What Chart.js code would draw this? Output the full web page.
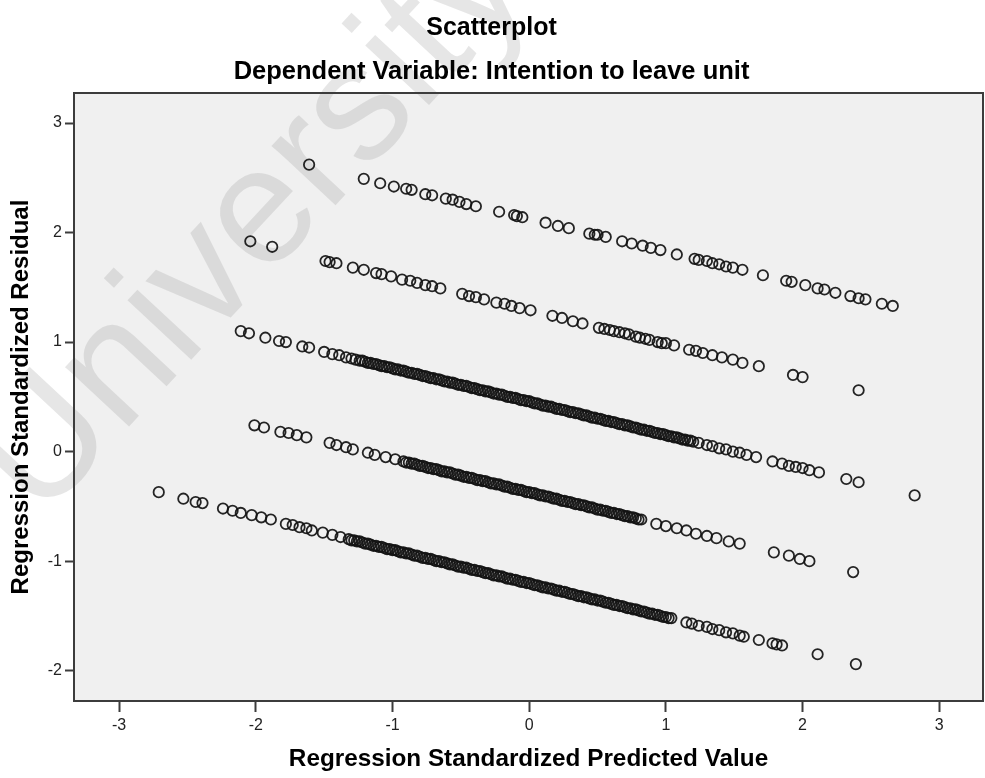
<!DOCTYPE html>
<html>
<head>
<meta charset="utf-8">
<title>Scatterplot</title>
<script src="https://cdn.jsdelivr.net/npm/chart.js@4.4.1/dist/chart.umd.min.js"></script>
<style>
  html, body { margin: 0; padding: 0; background: #ffffff; }
  #wrap { width: 985px; height: 778px; }
</style>
</head>
<body>
<div id="wrap"><canvas id="chart" width="985" height="778"></canvas></div>
<script>
const FONT = "'Liberation Sans', Arial, Helvetica, sans-serif";

// Texts
const chartTitle = 'Scatterplot';
const chartSubtitle = 'Dependent Variable: Intention to leave unit';
const xAxisTitle = 'Regression Standardized Predicted Value';
const yAxisTitle = 'Regression Standardized Residual';
const watermarkText = 'University';

// Tick positions
const xTickValues = [-3, -2, -1, 0, 1, 2, 3];
const yTickValues = [-2, -1, 0, 1, 2, 3];

// Standardized predicted value / standardized residual, one pair of arrays
// per response level of the outcome (each level forms one sloping band).
const band1Pred = [-1.61,-1.21,-1.09,-0.99,-0.90,-0.86,-0.76,-0.71,-0.61,-0.56,-0.51,-0.46,-0.39,-0.22,-0.11,-0.09,-0.05,0.12,0.21,0.29,0.44,0.48,0.50,0.56,0.68,0.75,0.83,0.89,0.96,1.08,1.21,1.24,1.30,1.34,1.39,1.44,1.49,1.56,1.71,1.88,1.92,2.02,2.11,2.16,2.24,2.35,2.41,2.46,2.58,2.66];
const band1Resid = [2.62,2.49,2.45,2.42,2.40,2.39,2.35,2.34,2.31,2.30,2.28,2.26,2.24,2.19,2.16,2.15,2.14,2.09,2.06,2.04,1.99,1.98,1.98,1.96,1.92,1.90,1.88,1.86,1.84,1.80,1.76,1.75,1.74,1.72,1.71,1.69,1.68,1.66,1.61,1.56,1.55,1.52,1.49,1.48,1.45,1.42,1.40,1.39,1.35,1.33];

const band2Pred = [-2.04,-1.88,-1.49,-1.46,-1.41,-1.29,-1.21,-1.12,-1.08,-1.01,-0.93,-0.87,-0.82,-0.76,-0.71,-0.65,-0.49,-0.44,-0.39,-0.33,-0.24,-0.18,-0.13,-0.07,0.01,0.17,0.24,0.32,0.39,0.51,0.55,0.59,0.62,0.66,0.70,0.73,0.78,0.81,0.85,0.88,0.94,0.97,1.00,1.06,1.17,1.22,1.27,1.34,1.41,1.49,1.56,1.68,1.93,2.00,2.41];
const band2Resid = [1.92,1.87,1.74,1.73,1.72,1.68,1.66,1.63,1.62,1.60,1.57,1.56,1.54,1.52,1.51,1.49,1.44,1.42,1.41,1.39,1.36,1.35,1.33,1.31,1.29,1.24,1.22,1.19,1.17,1.13,1.12,1.11,1.10,1.09,1.08,1.07,1.05,1.04,1.03,1.02,1.00,0.99,0.99,0.97,0.93,0.92,0.90,0.88,0.86,0.84,0.81,0.78,0.70,0.68,0.56];

const band3Pred = [-2.11,-2.05,-1.93,-1.83,-1.78,-1.66,-1.61,-1.50,-1.44,-1.39,-1.34,-1.30,-1.27,
  -1.24,-1.22,-1.20,-1.18,-1.16,-1.14,-1.12,-1.10,-1.08,-1.06,
  -1.04,-1.02,-1.00,-0.98,-0.96,-0.94,-0.92,-0.90,-0.88,-0.86,
  -0.84,-0.82,-0.80,-0.78,-0.76,-0.74,-0.72,-0.70,-0.68,-0.66,
  -0.64,-0.62,-0.60,-0.58,-0.56,-0.54,-0.52,-0.50,-0.48,-0.46,
  -0.44,-0.42,-0.40,-0.38,-0.36,-0.34,-0.32,-0.30,-0.28,-0.26,
  -0.24,-0.22,-0.20,-0.18,-0.16,-0.14,-0.12,-0.10,-0.08,-0.06,
  -0.04,-0.02,0.00,0.02,0.04,0.06,0.08,0.10,0.12,0.14,
  0.16,0.18,0.20,0.22,0.24,0.26,0.28,0.30,0.32,0.34,
  0.36,0.38,0.40,0.42,0.44,0.46,0.48,0.50,0.52,0.54,
  0.56,0.58,0.60,0.62,0.64,0.66,0.68,0.70,0.72,0.74,
  0.76,0.78,0.80,0.82,0.84,0.86,0.88,0.90,0.92,0.94,
  0.96,0.98,1.00,1.02,1.04,1.06,1.08,1.10,1.12,1.14,
  1.16,1.18,1.20,
  1.24,1.30,1.34,1.39,1.44,1.49,1.54,1.59,1.66,1.78,1.85,1.90,1.95,2.00,2.05,2.12,2.32,2.41,2.82];
const band3Resid = [1.10,1.08,1.04,1.01,1.00,0.96,0.95,0.91,0.89,0.88,0.86,0.85,0.84,
  0.83,0.83,0.82,0.81,0.81,0.80,0.80,0.79,0.78,0.78,
  0.77,0.77,0.76,0.75,0.75,0.74,0.74,0.73,0.72,0.72,
  0.71,0.71,0.70,0.69,0.69,0.68,0.67,0.67,0.66,0.66,
  0.65,0.64,0.64,0.63,0.63,0.62,0.61,0.61,0.60,0.60,
  0.59,0.58,0.58,0.57,0.56,0.56,0.55,0.55,0.54,0.53,
  0.53,0.52,0.52,0.51,0.50,0.50,0.49,0.49,0.48,0.47,
  0.47,0.46,0.46,0.45,0.44,0.44,0.43,0.42,0.42,0.41,
  0.41,0.40,0.39,0.39,0.38,0.38,0.37,0.36,0.36,0.35,
  0.35,0.34,0.33,0.33,0.32,0.31,0.31,0.30,0.30,0.29,
  0.28,0.28,0.27,0.27,0.26,0.25,0.25,0.24,0.24,0.23,
  0.22,0.22,0.21,0.20,0.20,0.19,0.19,0.18,0.17,0.17,
  0.16,0.16,0.15,0.14,0.14,0.13,0.13,0.12,0.11,0.11,
  0.10,0.10,0.09,
  0.08,0.06,0.05,0.03,0.02,0.00,-0.01,-0.03,-0.05,-0.09,-0.11,-0.13,-0.14,-0.15,-0.17,-0.19,-0.25,-0.28,-0.40];

const band4Pred = [-2.01,-1.94,-1.82,-1.76,-1.70,-1.63,-1.46,-1.41,-1.34,-1.29,-1.18,-1.13,-1.05,-0.98,
  -0.92,-0.90,-0.88,-0.86,-0.84,-0.82,-0.80,-0.78,-0.76,-0.74,
  -0.72,-0.70,-0.68,-0.66,-0.64,-0.62,-0.60,-0.58,-0.56,-0.54,
  -0.52,-0.50,-0.48,-0.46,-0.44,-0.42,-0.40,-0.38,-0.36,-0.34,
  -0.32,-0.30,-0.28,-0.26,-0.24,-0.22,-0.20,-0.18,-0.16,-0.14,
  -0.12,-0.10,-0.08,-0.06,-0.04,-0.02,0.00,0.02,0.04,0.06,
  0.08,0.10,0.12,0.14,0.16,0.18,0.20,0.22,0.24,0.26,
  0.28,0.30,0.32,0.34,0.36,0.38,0.40,0.42,0.44,0.46,
  0.48,0.50,0.52,0.54,0.56,0.58,0.60,0.62,0.64,0.66,
  0.68,0.70,0.72,0.74,0.76,0.78,0.80,0.82,
  0.93,1.00,1.08,1.15,1.22,1.30,1.37,1.46,1.54,1.79,1.90,1.98,2.05,2.37];
const band4Resid = [0.24,0.22,0.18,0.17,0.15,0.13,0.08,0.06,0.04,0.02,-0.01,-0.03,-0.05,-0.07,
  -0.09,-0.10,-0.10,-0.11,-0.11,-0.12,-0.13,-0.13,-0.14,-0.15,
  -0.15,-0.16,-0.16,-0.17,-0.18,-0.18,-0.19,-0.19,-0.20,-0.21,
  -0.21,-0.22,-0.23,-0.23,-0.24,-0.24,-0.25,-0.26,-0.26,-0.27,
  -0.27,-0.28,-0.29,-0.29,-0.30,-0.30,-0.31,-0.32,-0.32,-0.33,
  -0.34,-0.34,-0.35,-0.35,-0.36,-0.37,-0.37,-0.38,-0.38,-0.39,
  -0.40,-0.40,-0.41,-0.41,-0.42,-0.43,-0.43,-0.44,-0.45,-0.45,
  -0.46,-0.46,-0.47,-0.48,-0.48,-0.49,-0.49,-0.50,-0.51,-0.51,
  -0.52,-0.53,-0.53,-0.54,-0.54,-0.55,-0.56,-0.56,-0.57,-0.57,
  -0.58,-0.59,-0.59,-0.60,-0.60,-0.61,-0.62,-0.62,
  -0.66,-0.68,-0.70,-0.72,-0.75,-0.77,-0.79,-0.82,-0.84,-0.92,-0.95,-0.98,-1.00,-1.10];

const band5Pred = [-2.71,-2.53,-2.44,-2.39,-2.24,-2.17,-2.11,-2.03,-1.96,-1.89,-1.78,-1.73,-1.68,-1.63,-1.59,-1.51,-1.44,-1.38,
  -1.32,-1.30,-1.28,-1.26,-1.24,-1.22,-1.20,-1.18,-1.16,-1.14,
  -1.12,-1.10,-1.08,-1.06,-1.04,-1.02,-1.00,-0.98,-0.96,-0.94,
  -0.92,-0.90,-0.88,-0.86,-0.84,-0.82,-0.80,-0.78,-0.76,-0.74,
  -0.72,-0.70,-0.68,-0.66,-0.64,-0.62,-0.60,-0.58,-0.56,-0.54,
  -0.52,-0.50,-0.48,-0.46,-0.44,-0.42,-0.40,-0.38,-0.36,-0.34,
  -0.32,-0.30,-0.28,-0.26,-0.24,-0.22,-0.20,-0.18,-0.16,-0.14,
  -0.12,-0.10,-0.08,-0.06,-0.04,-0.02,0.00,0.02,0.04,0.06,
  0.08,0.10,0.12,0.14,0.16,0.18,0.20,0.22,0.24,0.26,
  0.28,0.30,0.32,0.34,0.36,0.38,0.40,0.42,0.44,0.46,
  0.48,0.50,0.52,0.54,0.56,0.58,0.60,0.62,0.64,0.66,
  0.68,0.70,0.72,0.74,0.76,0.78,0.80,0.82,0.84,0.86,
  0.88,0.90,0.92,0.94,0.96,0.98,1.00,1.02,1.04,
  1.15,1.19,1.24,1.30,1.34,1.39,1.44,1.49,1.54,1.57,1.68,1.78,1.81,1.85,2.11,2.39];
const band5Resid = [-0.37,-0.43,-0.46,-0.47,-0.52,-0.54,-0.56,-0.58,-0.60,-0.62,-0.66,-0.67,-0.69,-0.70,-0.72,-0.74,-0.76,-0.78,
  -0.80,-0.81,-0.81,-0.82,-0.82,-0.83,-0.84,-0.84,-0.85,-0.86,
  -0.86,-0.87,-0.87,-0.88,-0.89,-0.89,-0.90,-0.90,-0.91,-0.92,
  -0.92,-0.93,-0.93,-0.94,-0.95,-0.95,-0.96,-0.97,-0.97,-0.98,
  -0.98,-0.99,-1.00,-1.00,-1.01,-1.01,-1.02,-1.03,-1.03,-1.04,
  -1.05,-1.05,-1.06,-1.06,-1.07,-1.08,-1.08,-1.09,-1.09,-1.10,
  -1.11,-1.11,-1.12,-1.13,-1.13,-1.14,-1.14,-1.15,-1.16,-1.16,
  -1.17,-1.17,-1.18,-1.19,-1.19,-1.20,-1.20,-1.21,-1.22,-1.22,
  -1.23,-1.24,-1.24,-1.25,-1.25,-1.26,-1.27,-1.27,-1.28,-1.28,
  -1.29,-1.30,-1.30,-1.31,-1.32,-1.32,-1.33,-1.33,-1.34,-1.35,
  -1.35,-1.36,-1.36,-1.37,-1.38,-1.38,-1.39,-1.40,-1.40,-1.41,
  -1.41,-1.42,-1.43,-1.43,-1.44,-1.44,-1.45,-1.46,-1.46,-1.47,
  -1.48,-1.48,-1.49,-1.49,-1.50,-1.51,-1.51,-1.52,-1.52,
  -1.56,-1.57,-1.59,-1.60,-1.62,-1.63,-1.65,-1.66,-1.68,-1.69,-1.72,-1.75,-1.76,-1.77,-1.85,-1.94];

const bands = [
  [band1Pred, band1Resid],
  [band2Pred, band2Resid],
  [band3Pred, band3Resid],
  [band4Pred, band4Resid],
  [band5Pred, band5Resid]
];

function toPoints(pred, resid) {
  const n = Math.min(pred.length, resid.length);
  const pts = [];
  for (let i = 0; i < n; i++) pts.push({ x: pred[i], y: resid[i] });
  return pts;
}

// Grey plot panel, faint diagonal watermark and the dark frame round the panel
const panelPlugin = {
  id: 'panel',
  beforeDraw(chart) {
    const { ctx, chartArea: a } = chart;
    ctx.save();
    ctx.fillStyle = '#ffffff';
    ctx.fillRect(0, 0, chart.width, chart.height);
    ctx.fillStyle = '#f0f0f0';
    ctx.fillRect(a.left, a.top, a.right - a.left, a.bottom - a.top);
    ctx.translate(40, 522);
    ctx.rotate(-47 * Math.PI / 180);
    ctx.font = '165px ' + FONT;
    ctx.textBaseline = 'alphabetic';
    ctx.fillStyle = 'rgba(150,150,150,0.24)';
    ctx.fillText(watermarkText, 0, 0);
    ctx.restore();
  },
  afterDatasetsDraw(chart) {
    const { ctx, chartArea: a } = chart;
    ctx.save();
    ctx.strokeStyle = '#3c3c3c';
    ctx.lineWidth = 2;
    ctx.strokeRect(a.left, a.top, a.right - a.left, a.bottom - a.top);
    ctx.restore();
  }
};

new Chart(document.getElementById('chart'), {
  type: 'scatter',
  data: {
    datasets: bands.map(([pred, resid]) => ({
      data: toPoints(pred, resid),
      showLine: false,
      pointStyle: 'circle',
      pointRadius: 5.2,
      pointHoverRadius: 5.2,
      pointBorderWidth: 1.8,
      pointBorderColor: 'rgba(18,18,18,0.92)',
      pointBackgroundColor: 'rgba(0,0,0,0)'
    }))
  },
  options: {
    responsive: false,
    animation: false,
    devicePixelRatio: 1,
    events: [],
    layout: { autoPadding: false, padding: { left: 0, right: 2, top: 0, bottom: 0 } },
    plugins: {
      legend: { display: false },
      tooltip: { enabled: false },
      title: {
        display: true,
        text: chartTitle,
        color: '#000000',
        font: { family: FONT, size: 25, weight: 'bold' },
        padding: { top: 13, bottom: 0 }
      },
      subtitle: {
        display: true,
        text: chartSubtitle,
        color: '#000000',
        font: { family: FONT, size: 25.5, weight: 'bold' },
        padding: { top: 13.2, bottom: 6.2 }
      }
    },
    scales: {
      x: {
        type: 'linear',
        position: 'bottom',
        min: -3.33,
        max: 3.32,
        afterBuildTicks: (s) => { s.ticks = xTickValues.map(v => ({ value: v })); },
        afterFit: (s) => { s.height = 77; s.paddingLeft = 0; s.paddingRight = 0; },
        border: { display: false },
        grid: { drawOnChartArea: false, drawTicks: true, tickLength: 11, tickWidth: 2, tickColor: '#3c3c3c' },
        ticks: {
          color: '#222222',
          font: { family: FONT, size: 16 },
          padding: 4,
          maxRotation: 0,
          autoSkip: false,
          callback: (v) => String(v)
        },
        title: {
          display: true,
          text: xAxisTitle,
          color: '#000000',
          font: { family: FONT, size: 24.3, weight: 'bold' },
          padding: { top: 0, bottom: 4 }
        }
      },
      y: {
        type: 'linear',
        min: -2.277,
        max: 3.274,
        afterBuildTicks: (s) => { s.ticks = yTickValues.map(v => ({ value: v })); },
        afterFit: (s) => { s.width = 74; s.paddingTop = 0; s.paddingBottom = 0; },
        border: { display: false },
        grid: { drawOnChartArea: false, drawTicks: true, tickLength: 9, tickWidth: 2, tickColor: '#3c3c3c' },
        ticks: {
          color: '#222222',
          font: { family: FONT, size: 16 },
          padding: 3,
          autoSkip: false,
          callback: (v) => String(v)
        },
        title: {
          display: true,
          text: yAxisTitle,
          color: '#000000',
          font: { family: FONT, size: 24, weight: 'bold' },
          padding: { top: 7, bottom: 0 }
        }
      }
    }
  },
  plugins: [panelPlugin]
});
</script>
</body>
</html>
